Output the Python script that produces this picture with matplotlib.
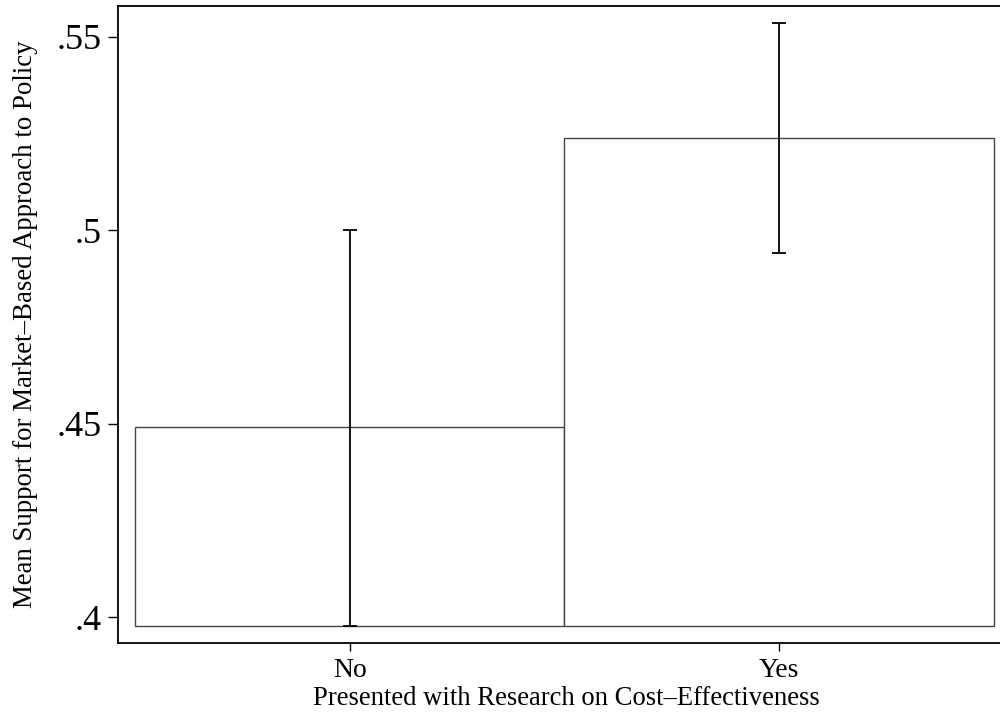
import matplotlib
matplotlib.use("Agg")
import matplotlib.pyplot as plt
import numpy as np

categories = ["No", "Yes"]
means = [0.4491, 0.5239]
ci_low = [0.3977, 0.4941]
ci_high = [0.5001, 0.5535]
bar_base = 0.3977
yticks = [0.40, 0.45, 0.50, 0.55]
ytick_labels = [".4", ".45", ".5", ".55"]

plt.rcParams['font.family'] = ['Liberation Serif', 'DejaVu Serif']

fig = plt.figure(figsize=(10, 7.14), dpi=100)
ax = fig.add_axes([0.118, 0.0994, 0.882, 0.8922])

x = np.arange(len(categories))
heights = [m - bar_base for m in means]
ax.bar(x, heights, bottom=bar_base, width=1.0, color='white',
       edgecolor='#444444', linewidth=1.0, zorder=2)
yerr = [[m - l for m, l in zip(means, ci_low)], [h - m for m, h in zip(means, ci_high)]]
ax.errorbar(x, means, yerr=yerr, fmt='none', ecolor='black', elinewidth=1.3,
            capsize=4.8, capthick=1.3, zorder=3)

ax.set_xlim(-0.5396, 1.514)
ax.set_ylim(0.3933, 0.558)
ax.set_xticks(x)
ax.set_xticklabels(categories, fontsize=20)
ax.set_yticks(yticks)
ax.set_yticklabels(ytick_labels, fontsize=26)
ax.tick_params(axis='y', length=7, width=1.0, pad=5)
ax.tick_params(axis='x', length=6, width=1.0, pad=5)
for s in ['left', 'bottom', 'top']:
    ax.spines[s].set_linewidth(1.3)
ax.spines['right'].set_visible(False)

ax.set_xlabel("Presented with Research on Cost\u2013Effectiveness", fontsize=19.2, labelpad=0)
ax.set_ylabel("Mean Support for Market\u2013Based Approach to Policy", fontsize=19.4, labelpad=12)
ax.xaxis.set_label_coords(0.5085, -0.068)
ax.yaxis.set_label_coords(-0.0907, 0.5)

fig.savefig("out.png", dpi=100)
